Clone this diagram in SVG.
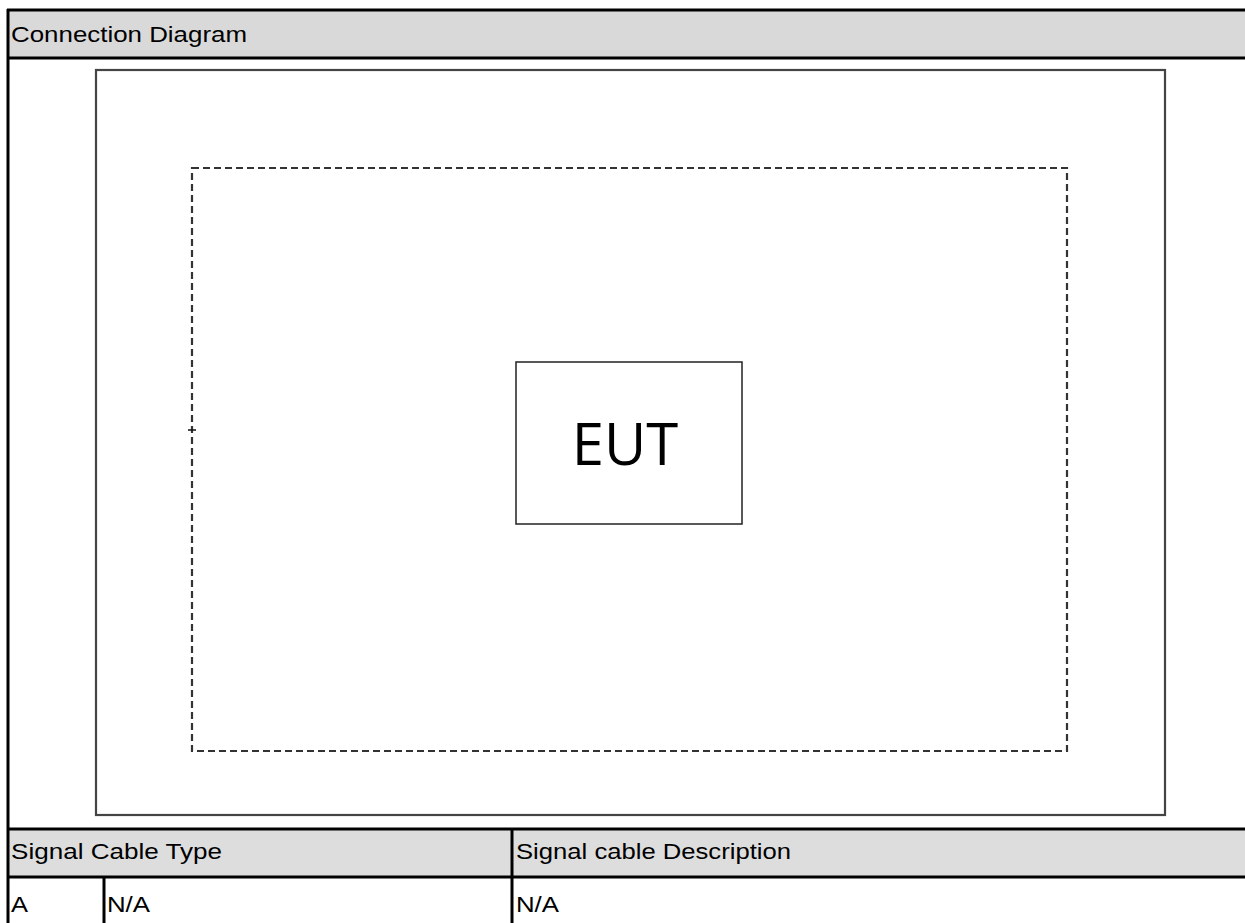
<svg xmlns="http://www.w3.org/2000/svg" width="1245" height="923" viewBox="0 0 1245 923">
<style>
.t{font-family:"Liberation Sans",Arial,sans-serif;font-size:22.5px;fill:#000}
.b{stroke:#000;stroke-width:3;fill:none}
.hdr{fill:#d9d9d9}
.hdr2{fill:#dddddd}
</style>
<rect width="1245" height="923" fill="#fff"/>
<g id="table">
<rect class="hdr" x="8" y="10" width="1240" height="48"/>
<rect class="hdr2" x="8" y="829" width="1240" height="48"/>
<line class="b" x1="7" y1="10" x2="1246" y2="10"/>
<line class="b" x1="7" y1="58" x2="1246" y2="58"/>
<line class="b" x1="7" y1="829" x2="1246" y2="829"/>
<line class="b" x1="7" y1="877" x2="1246" y2="877"/>
<line class="b" x1="8" y1="9" x2="8" y2="924"/>
<line class="b" x1="512" y1="829" x2="512" y2="924"/>
<line class="b" x1="104" y1="877" x2="104" y2="924"/>
<text class="t" x="11" y="42" textLength="236" lengthAdjust="spacingAndGlyphs">Connection Diagram</text>
<text class="t" x="11" y="859" textLength="211" lengthAdjust="spacingAndGlyphs">Signal Cable Type</text>
<text class="t" x="516" y="859" textLength="275" lengthAdjust="spacingAndGlyphs">Signal cable Description</text>
<text class="t" x="11" y="912" textLength="17" lengthAdjust="spacingAndGlyphs">A</text>
<text class="t" x="107" y="912" textLength="43" lengthAdjust="spacingAndGlyphs">N/A</text>
<text class="t" x="516" y="912" textLength="43" lengthAdjust="spacingAndGlyphs">N/A</text>
</g>
<g id="test-area">
<rect x="96" y="70" width="1069" height="745" fill="none" stroke="#444" stroke-width="2.2"/>
</g>
<g id="table-boundary">
<rect x="192" y="168" width="875" height="583" fill="none" stroke="#333" stroke-width="2.2" stroke-dasharray="7,4"/>
</g>
<g id="eut">
<rect x="516" y="362" width="226" height="162" fill="#fff" stroke="#222" stroke-width="1.5"/>
<text x="625" y="465" text-anchor="middle" style="font-family:'Open Sans','Noto Sans',sans-serif;font-size:58px;fill:#000">EUT</text>
</g>
<g id="connectors">
<line x1="188" y1="430" x2="196" y2="430" stroke="#111" stroke-width="1.5"/>
</g>
</svg>
